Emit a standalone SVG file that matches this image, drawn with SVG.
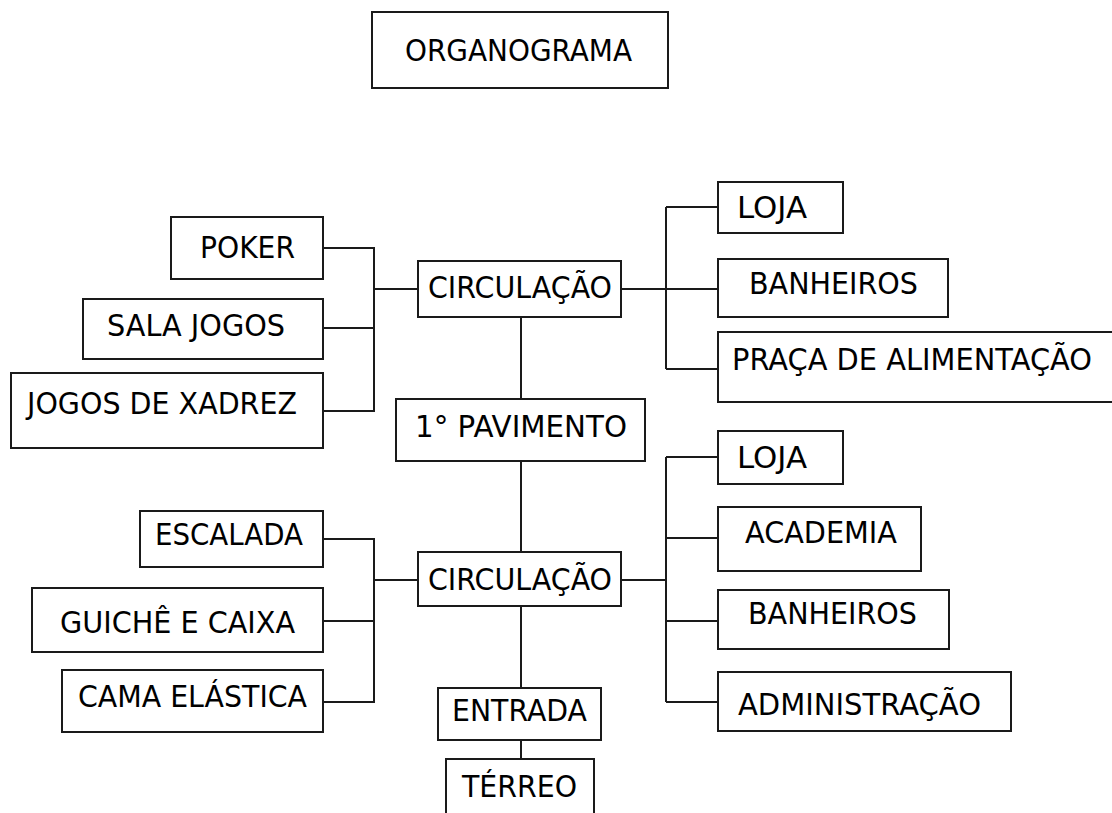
<svg xmlns="http://www.w3.org/2000/svg" width="1112" height="813" viewBox="0 0 1112 813">
<style>
.box{fill:#fff;stroke:#1a1a1a;stroke-width:2}
.t{font-family:"DejaVu Sans","Liberation Sans",sans-serif;font-size:31px;fill:#000}
.c{fill:none;stroke:#1a1a1a;stroke-width:2}
</style>
<rect width="1112" height="813" fill="#fff"/>
<g id="connectors">
<path class="c" d="M323 248H374V411H323M323 328H374M374 289H418"/>
<path class="c" d="M621 289H666M666 207V369M666 207H718M666 289H718M666 369H718"/>
<path class="c" d="M521 317V399M521 461V552M521 606V688M521 740V759"/>
<path class="c" d="M323 539H374V702H323M323 621H374M374 580H418"/>
<path class="c" d="M621 580H666M666 457V702M666 457H718M666 538H718M666 621H718M666 702H718"/>
</g>
<g id="n-organograma"><rect class="box" x="372" y="12" width="296" height="76"/><text class="t" x="405" y="61" textLength="227" lengthAdjust="spacingAndGlyphs">ORGANOGRAMA</text></g>
<g id="n-poker"><rect class="box" x="171" y="217" width="152" height="62"/><text class="t" x="200" y="258" textLength="95" lengthAdjust="spacingAndGlyphs">POKER</text></g>
<g id="n-sala"><rect class="box" x="83" y="299" width="240" height="60"/><text class="t" x="107" y="336" textLength="178" lengthAdjust="spacingAndGlyphs">SALA JOGOS</text></g>
<g id="n-xadrez"><rect class="box" x="11" y="373" width="312" height="75"/><text class="t" x="27" y="414" textLength="270" lengthAdjust="spacingAndGlyphs">JOGOS DE XADREZ</text></g>
<g id="n-circ1"><rect class="box" x="418" y="261" width="203" height="56"/><text class="t" x="428" y="298" textLength="184" lengthAdjust="spacingAndGlyphs">CIRCULAÇÃO</text></g>
<g id="n-pav1"><rect class="box" x="396" y="399" width="249" height="62"/><text class="t" x="415" y="437" textLength="212" lengthAdjust="spacingAndGlyphs">1° PAVIMENTO</text></g>
<g id="n-loja1"><rect class="box" x="718" y="182" width="125" height="51"/><text class="t" x="737" y="218" textLength="70" lengthAdjust="spacingAndGlyphs">LOJA</text></g>
<g id="n-banh1"><rect class="box" x="718" y="259" width="230" height="58"/><text class="t" x="749" y="294" textLength="169" lengthAdjust="spacingAndGlyphs">BANHEIROS</text></g>
<g id="n-praca"><rect class="box" x="718" y="332" width="400" height="70"/><text class="t" x="732" y="370" textLength="360" lengthAdjust="spacingAndGlyphs">PRAÇA DE ALIMENTAÇÃO</text></g>
<g id="n-escalada"><rect class="box" x="140" y="511" width="183" height="56"/><text class="t" x="155" y="545" textLength="148" lengthAdjust="spacingAndGlyphs">ESCALADA</text></g>
<g id="n-guiche"><rect class="box" x="32" y="588" width="291" height="64"/><text class="t" x="60" y="633" textLength="235" lengthAdjust="spacingAndGlyphs">GUICHÊ E CAIXA</text></g>
<g id="n-cama"><rect class="box" x="62" y="670" width="261" height="62"/><text class="t" x="78" y="707" textLength="229" lengthAdjust="spacingAndGlyphs">CAMA ELÁSTICA</text></g>
<g id="n-circ2"><rect class="box" x="418" y="552" width="203" height="54"/><text class="t" x="428" y="590" textLength="184" lengthAdjust="spacingAndGlyphs">CIRCULAÇÃO</text></g>
<g id="n-entrada"><rect class="box" x="438" y="688" width="163" height="52"/><text class="t" x="452" y="721" textLength="135" lengthAdjust="spacingAndGlyphs">ENTRADA</text></g>
<g id="n-terreo"><rect class="box" x="446" y="759" width="148" height="70"/><text class="t" x="462" y="797" textLength="115" lengthAdjust="spacingAndGlyphs">TÉRREO</text></g>
<g id="n-loja2"><rect class="box" x="718" y="431" width="125" height="53"/><text class="t" x="737" y="468" textLength="70" lengthAdjust="spacingAndGlyphs">LOJA</text></g>
<g id="n-academia"><rect class="box" x="718" y="507" width="203" height="64"/><text class="t" x="745" y="543" textLength="152" lengthAdjust="spacingAndGlyphs">ACADEMIA</text></g>
<g id="n-banh2"><rect class="box" x="718" y="590" width="231" height="59"/><text class="t" x="748" y="624" textLength="169" lengthAdjust="spacingAndGlyphs">BANHEIROS</text></g>
<g id="n-admin"><rect class="box" x="718" y="672" width="293" height="59"/><text class="t" x="738" y="715" textLength="243" lengthAdjust="spacingAndGlyphs">ADMINISTRAÇÃO</text></g>
</svg>
